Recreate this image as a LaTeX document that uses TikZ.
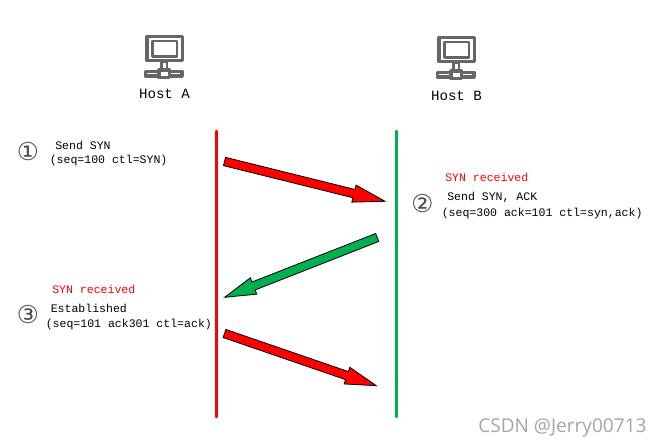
\documentclass[tikz,border=0pt]{standalone}
\usepackage{fontspec}
\setmainfont{Liberation Mono}
\newfontfamily\circfont{DejaVu Sans}
\newfontfamily\wmfont{Open Sans}
\usetikzlibrary{calc}
\definecolor{netgray}{HTML}{666666}
\definecolor{lifegreen}{HTML}{00B050}
\tikzset{
  x=0.75pt,y=-0.75pt,
  lifeline/.style={line width=2.2pt,line cap=round},
  msgtext/.style={inner sep=0pt,anchor=west,font=\fontsize{8.65}{10}\selectfont,text=black},
  redtext/.style={msgtext,text=red},
  hostlabel/.style={inner sep=0pt,font=\fontsize{10.6}{12}\selectfont,text=black},
  stepnum/.style={inner sep=0pt,font=\circfont\fontsize{18.5}{20}\selectfont,text=black!70},
  iconline/.style={draw=netgray,line width=2.3pt,fill=white,line join=round},
  blockarrow/.style={draw=black,line width=0.6pt,line join=miter,miter limit=10},
}
% #1 tail, #2 tip, #3 colour, #4 head length in px
\newcommand{\blockarrow}[4]{%
  \path coordinate (h) at ($(#2)!{#4*0.75pt}!(#1)$);
  \fill[#3,blockarrow]
    ($(#1)!3.2pt!90:(#2)$) -- ($(h)!3.2pt!-90:(#1)$) -- ($(h)!6.6pt!-90:(#1)$) -- (#2)
    -- ($(h)!6.6pt!90:(#1)$) -- ($(h)!3.2pt!90:(#1)$) -- ($(#1)!3.2pt!-90:(#2)$) -- cycle;
}
\newcommand{\hosticon}[1]{%
  \begin{scope}[shift={(#1)}]
    \draw[iconline] (147,36.5) rectangle (182.5,60.5);
    \draw[iconline,line width=1.7pt] (152.5,41) rectangle (177,56.5);
    \draw[iconline,line width=1.6pt] (161.5,62) rectangle (167,69);
    \draw[iconline] (145.5,71.5) rectangle (182,76);
    \draw[iconline] (159,70) rectangle (169.5,77.5);
  \end{scope}}
\begin{document}
\begin{tikzpicture}
\useasboundingbox[fill=white] (0,0) rectangle (661,448);
\hosticon{0,0}
\hosticon{292,1}
\node[hostlabel] (hosta) at (164.5,94) {Host A};
\node[hostlabel] (hostb) at (456.5,96) {Host B};

\coordinate (atop) at (216.5,131);
\coordinate (abot) at (216.5,417);
\coordinate (btop) at (396.5,131);
\coordinate (bbot) at (396.5,417);
\draw[lifeline,red] (atop) -- (abot);
\draw[lifeline,lifegreen] (btop) -- (bbot);

\coordinate (t1) at (224.5,161.5);
\coordinate (p1) at (385,201.3);
\coordinate (t2) at (377.2,237.5);
\coordinate (p2) at (224.7,297.3);
\coordinate (t3) at (224.5,333.5);
\coordinate (p3) at (376.3,385.7);
\blockarrow{t1}{p1}{red}{32}
\blockarrow{t2}{p2}{lifegreen}{31}
\blockarrow{t3}{p3}{red}{31}

\node[stepnum] (n1) at (28,151.5) {①};
\node[msgtext] (s1a) at (55,145) {Send SYN};
\node[msgtext] (s1b) at (49.5,161) {(seq=100 ctl=SYN)};

\node[redtext] (s2r) at (445,177) {SYN received};
\node[stepnum] (n2) at (422.5,204) {②};
\node[msgtext] (s2a) at (447,197) {Send SYN, ACK};
\node[msgtext] (s2b) at (441.5,214) {(seq=300 ack=101 ctl=syn,ack)};

\node[redtext] (s3r) at (52,289) {SYN received};
\node[stepnum] (n3) at (28,315) {③};
\node[msgtext] (s3a) at (50.5,308.5) {Established};
\node[msgtext] (s3b) at (45.5,325) {(seq=101 ack301 ctl=ack)};

\node[inner sep=0pt,anchor=west,text=black!35,font=\wmfont\fontsize{14.3}{16}\selectfont] (wm) at (478,427.5) {CSDN @Jerry00713};
\end{tikzpicture}
\end{document}
